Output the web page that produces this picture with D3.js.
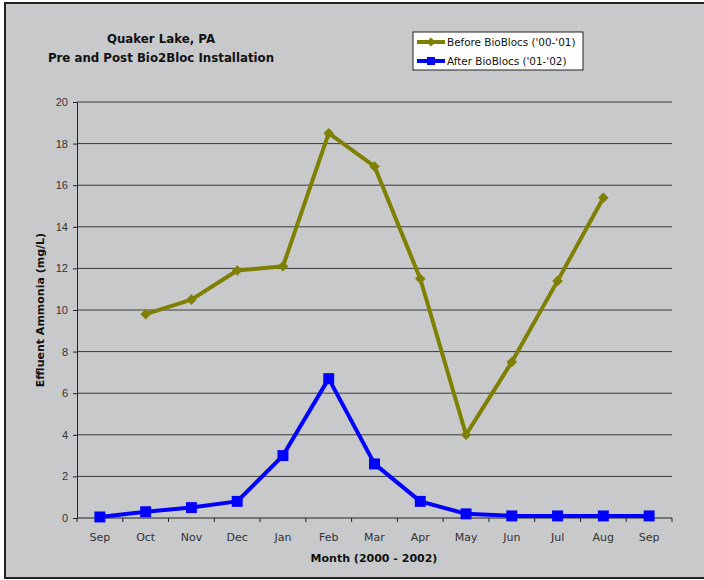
<!DOCTYPE html>
<html>
<head>
<meta charset="utf-8">
<script src="https://cdn.jsdelivr.net/npm/d3@7"></script>
<style>
  body { margin: 0; background: #ffffff; }
  svg { display: block; font-family: "DejaVu Sans", sans-serif; }
  .grid line { stroke: #3a3a3a; stroke-width: 1; }
  .axis path, .axis line { stroke: #222; }
  .axis text { fill: #333; font-size: 11px; }
</style>
</head>
<body>
<div id="chart"></div>
<script>
  "use strict";

  var months = ["Sep", "Oct", "Nov", "Dec", "Jan", "Feb", "Mar", "Apr", "May", "Jun", "Jul", "Aug", "Sep"];
  // index into months, so the two Sep columns stay distinct
  var beforeValues = [null, 9.8, 10.5, 11.9, 12.1, 18.5, 16.9, 11.5, 4.0, 7.5, 11.4, 15.4, null];
  var afterValues = [0.05, 0.3, 0.5, 0.8, 3.0, 6.7, 2.6, 0.8, 0.2, 0.1, 0.1, 0.1, 0.1];
  var yTicks = [0, 2, 4, 6, 8, 10, 12, 14, 16, 18, 20];

  var width = 704, height = 580;
  var plot = { left: 77, right: 672, top: 102, bottom: 518 };

  var svg = d3.select('#chart')
      .append('svg')
      .attr('width', width)
      .attr('height', height);

  // Chart background and border
  svg.append('rect')
      .attr('x', 5).attr('y', 3)
      .attr('width', 710).attr('height', 575)
      .attr('fill', '#c8c9cb')
      .attr('stroke', '#222')
      .attr('stroke-width', 2);

  var x = d3.scaleBand()
      .domain(d3.range(months.length))
      .range([plot.left, plot.right]);

  var y = d3.scaleLinear()
      .domain([0, 20])
      .range([plot.bottom, plot.top]);

  // Horizontal gridlines
  svg.append('g')
      .attr('class', 'grid')
      .selectAll('line')
      .data(yTicks.slice(1))
      .enter().append('line')
      .attr('x1', plot.left).attr('x2', plot.right)
      .attr('y1', function(d) { return y(d); })
      .attr('y2', function(d) { return y(d); });

  // Y axis
  svg.append('g')
      .attr('class', 'axis')
      .attr('transform', 'translate(' + plot.left + ',0)')
      .call(d3.axisLeft(y).tickValues(yTicks).tickSize(4).tickPadding(5).tickSizeOuter(0))
      .selectAll('text').attr('font-size', '11px');

  // X axis: ticks between categories, labels centred in each band
  var xAxis = svg.append('g')
      .attr('class', 'axis')
      .attr('transform', 'translate(0,' + plot.bottom + ')');
  xAxis.append('line')
      .attr('x1', plot.left).attr('x2', plot.right);
  xAxis.selectAll('.tick')
      .data(d3.range(months.length + 1))
      .enter().append('line')
      .attr('x1', function(i) { return plot.left + i * x.step(); })
      .attr('x2', function(i) { return plot.left + i * x.step(); })
      .attr('y1', 0).attr('y2', 4);
  xAxis.selectAll('text')
      .data(months)
      .enter().append('text')
      .attr('x', function(d, i) { return x(i) + x.bandwidth() / 2; })
      .attr('y', 23)
      .attr('text-anchor', 'middle')
      .text(function(d) { return d; });

  function cx(i) { return x(i) + x.bandwidth() / 2; }

  var line = d3.line()
      .defined(function(d) { return d !== null; })
      .x(function(d, i) { return cx(i); })
      .y(function(d) { return y(d); });

  function drawSeries(values, color, symbolType, size, rotate) {
    svg.append('path')
        .datum(values)
        .attr('fill', 'none')
        .attr('stroke', color)
        .attr('stroke-width', 4)
        .attr('stroke-linejoin', 'round')
        .attr('d', line);

    svg.append('g').selectAll('path')
        .data(values.map(function(v, i) { return { v: v, i: i }; })
          .filter(function(d) { return d.v !== null; }))
        .enter().append('path')
        .attr('fill', color)
        .attr('transform', function(d) {
          return 'translate(' + cx(d.i) + ',' + y(d.v) + ') rotate(' + rotate + ')';
        })
        .attr('d', d3.symbol().type(symbolType).size(size));
  }

  // Excel-style diamond is a square turned 45 degrees
  drawSeries(beforeValues, '#808000', d3.symbolSquare, 56, 45);
  drawSeries(afterValues, '#0000ff', d3.symbolSquare, 120, 0);

  // Title
  var title = svg.append('text')
      .attr('text-anchor', 'middle')
      .attr('font-size', '11.8px')
      .attr('font-weight', 'bold')
      .attr('fill', '#111');
  title.append('tspan').attr('x', 161).attr('y', 43).text('Quaker Lake, PA');
  title.append('tspan').attr('x', 161).attr('y', 62).text('Pre and Post Bio2Bloc Installation');

  // Axis titles
  svg.append('text')
      .attr('x', 374).attr('y', 562)
      .attr('text-anchor', 'middle')
      .attr('font-size', '11px')
      .attr('font-weight', 'bold')
      .attr('fill', '#111')
      .text('Month (2000 - 2002)');

  svg.append('text')
      .attr('transform', 'translate(44,' + ((plot.top + plot.bottom) / 2) + ') rotate(-90)')
      .attr('text-anchor', 'middle')
      .attr('font-size', '11px')
      .attr('font-weight', 'bold')
      .attr('fill', '#111')
      .text('Effluent Ammonia (mg/L)');

  // Legend
  var legendItems = [
    { label: "Before BioBlocs ('00-'01)", color: '#808000', size: 40, rotate: 45 },
    { label: "After BioBlocs ('01-'02)", color: '#0000ff', size: 64, rotate: 0 }
  ];
  var legend = svg.append('g').attr('transform', 'translate(413,32)');
  legend.append('rect')
      .attr('width', 170).attr('height', 38)
      .attr('fill', '#ffffff')
      .attr('stroke', '#222')
      .attr('stroke-width', 1);
  var item = legend.selectAll('.item')
      .data(legendItems)
      .enter().append('g')
      .attr('transform', function(d, i) { return 'translate(0,' + (10 + i * 19) + ')'; });
  item.append('line')
      .attr('x1', 4).attr('x2', 32)
      .attr('stroke', function(d) { return d.color; })
      .attr('stroke-width', 4);
  item.append('path')
      .attr('transform', function(d) { return 'translate(18,0) rotate(' + d.rotate + ')'; })
      .attr('fill', function(d) { return d.color; })
      .attr('d', function(d) { return d3.symbol().type(d3.symbolSquare).size(d.size)(); });
  item.append('text')
      .attr('x', 34).attr('y', 4)
      .attr('font-size', '10.4px')
      .attr('fill', '#111')
      .text(function(d) { return d.label; });
</script>
</body>
</html>
